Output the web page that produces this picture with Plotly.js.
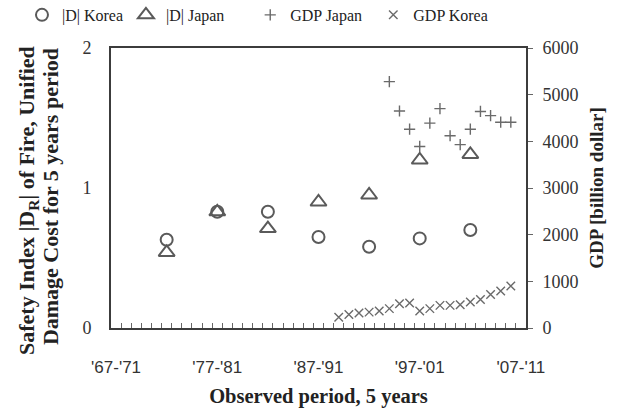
<!DOCTYPE html>
<html><head><meta charset="utf-8">
<script src="https://cdn.plot.ly/plotly-3.0.1.min.js"></script>
<style>html,body{margin:0;padding:0;background:#fff}#chart{width:628px;height:409px}</style>
</head><body><div id="chart"></div>
<script>
const categories = ["'67-'71","'68-'72","'69-'73","'70-'74","'71-'75","'72-'76","'73-'77","'74-'78","'75-'79","'76-'80",
"'77-'81","'78-'82","'79-'83","'80-'84","'81-'85","'82-'86","'83-'87","'84-'88","'85-'89","'86-'90",
"'87-'91","'88-'92","'89-'93","'90-'94","'91-'95","'92-'96","'93-'97","'94-'98","'95-'99","'96-'00",
"'97-'01","'98-'02","'99-'03","'00-'04","'01-'05","'02-'06","'03-'07","'04-'08","'05-'09","'06-'10","'07-'11"];
const shownLabels = ["'67-'71","'77-'81","'87-'91","'97-'01","'07-'11"];

const safetyPeriods = ["'72-'76","'77-'81","'82-'86","'87-'91","'92-'96","'97-'01","'02-'06"];
const dKorea = [0.63, 0.83, 0.83, 0.65, 0.58, 0.64, 0.70];
const dJapan = [0.54, 0.83, 0.71, 0.90, 0.95, 1.20, 1.24];

const gdpJapanPeriods = ["'94-'98","'95-'99","'96-'00","'97-'01","'98-'02","'99-'03","'00-'04","'01-'05","'02-'06","'03-'07","'04-'08","'05-'09","'06-'10"];
const gdpJapan = [5280, 4650, 4260, 3890, 4390, 4700, 4120, 3930, 4260, 4640, 4550, 4410, 4410];

const gdpKoreaPeriods = ["'89-'93","'90-'94","'91-'95","'92-'96","'93-'97","'94-'98","'95-'99","'96-'00","'97-'01","'98-'02","'99-'03","'00-'04","'01-'05","'02-'06","'03-'07","'04-'08","'05-'09","'06-'10"];
const gdpKorea = [230, 290, 320, 340, 365, 415, 520, 535, 365, 415, 485, 485, 500, 555, 610, 720, 795, 900];

const yTitleLines = ['Safety Index |D<sub>R</sub>| of Fire, Unified', 'Damage Cost for 5 years period'];

const serif = 'Liberation Serif, Times New Roman, serif';
const markColor = '#5a5a5a';
const axisColor = '#3c3c3c';

const traces = [
  {x: safetyPeriods, y: dKorea, name: '|D| Korea', type: 'scatter', mode: 'markers', legend: 'legend',
   marker: {symbol: 'circle-open', size: 12, color: markColor, line: {width: 2, color: markColor}}},
  {x: safetyPeriods, y: dJapan, name: '|D| Japan', type: 'scatter', mode: 'markers', legend: 'legend2',
   marker: {symbol: 'triangle-up-open', size: 14, color: markColor, line: {width: 2, color: markColor}}},
  {x: gdpJapanPeriods, y: gdpJapan, name: 'GDP Japan', type: 'scatter', mode: 'markers', yaxis: 'y2', legend: 'legend3',
   marker: {symbol: 'cross-thin-open', size: 8, color: '#6a6a6a', line: {width: 1.4, color: '#6a6a6a'}}},
  {x: gdpKoreaPeriods, y: gdpKorea, name: 'GDP Korea', type: 'scatter', mode: 'markers', yaxis: 'y2', legend: 'legend4',
   marker: {symbol: 'x-thin-open', size: 8.5, color: '#6a6a6a', line: {width: 1.4, color: '#6a6a6a'}}}
];

function legendAt(x) {
  return {orientation: 'h', x: x, xanchor: 'left', y: 1.118, yanchor: 'middle',
          font: {family: serif, size: 16, color: '#222'}, bgcolor: 'rgba(0,0,0,0)'};
}

const layout = {
  width: 628, height: 409,
  margin: {l: 111, r: 102, t: 48, b: 81, autoexpand: false},
  paper_bgcolor: '#fff', plot_bgcolor: '#fff',
  showlegend: true,
  legend: legendAt(-0.2145),
  legend2: legendAt(0.036),
  legend3: legendAt(0.3355),
  legend4: legendAt(0.632),
  xaxis: {type: 'category', categoryorder: 'array', categoryarray: categories,
          range: [-0.5, categories.length - 0.5],
          tickmode: 'array', tickvals: categories,
          ticktext: categories.map(c => shownLabels.includes(c) ? c : ''),
          tickangle: 0,
          tickson: 'boundaries', ticks: 'inside', ticklen: 5, tickwidth: 1, tickcolor: '#666',
          ticklabelstandoff: 23,
          tickfont: {family: 'Liberation Sans, Arial, sans-serif', size: 17, color: '#333'},
          showline: true, linecolor: axisColor, linewidth: 2, mirror: true,
          showgrid: false, zeroline: false,
          title: {text: 'Observed period, 5 years', font: {family: serif, size: 20.5, weight: 'bold', color: '#222'}, standoff: 12}},
  yaxis: {range: [0, 2], dtick: 1, tick0: 0, ticks: '', showgrid: false, zeroline: false,
          showline: true, linecolor: axisColor, linewidth: 2, mirror: true,
          ticklabelstandoff: 14,
          tickfont: {family: serif, size: 18, color: '#333'}},
  yaxis2: {overlaying: 'y', side: 'right', range: [0, 6000], dtick: 1000, tick0: 0,
           ticks: 'outside', ticklen: 5, tickcolor: '#666', showgrid: false, zeroline: false,
           showline: true, linecolor: axisColor, linewidth: 2,
           ticklabelstandoff: 6,
           tickfont: {family: serif, size: 18, color: '#333'},
           title: {text: 'GDP [billion dollar]', font: {family: serif, size: 19, weight: 'bold', color: '#222'}, standoff: 12}},
  annotations: [
    {text: yTitleLines[0], xref: 'paper', yref: 'paper', x: -0.2, y: 0.4536, xanchor: 'center', yanchor: 'middle',
     textangle: -90, showarrow: false, font: {family: serif, size: 22, weight: 'bold', color: '#222'}},
    {text: yTitleLines[1], xref: 'paper', yref: 'paper', x: -0.147, y: 0.471, xanchor: 'center', yanchor: 'middle',
     textangle: -90, showarrow: false, font: {family: serif, size: 22, weight: 'bold', color: '#222'}}
  ]
};

Plotly.newPlot('chart', traces, layout, {displayModeBar: false, staticPlot: true});
</script>
</body></html>
